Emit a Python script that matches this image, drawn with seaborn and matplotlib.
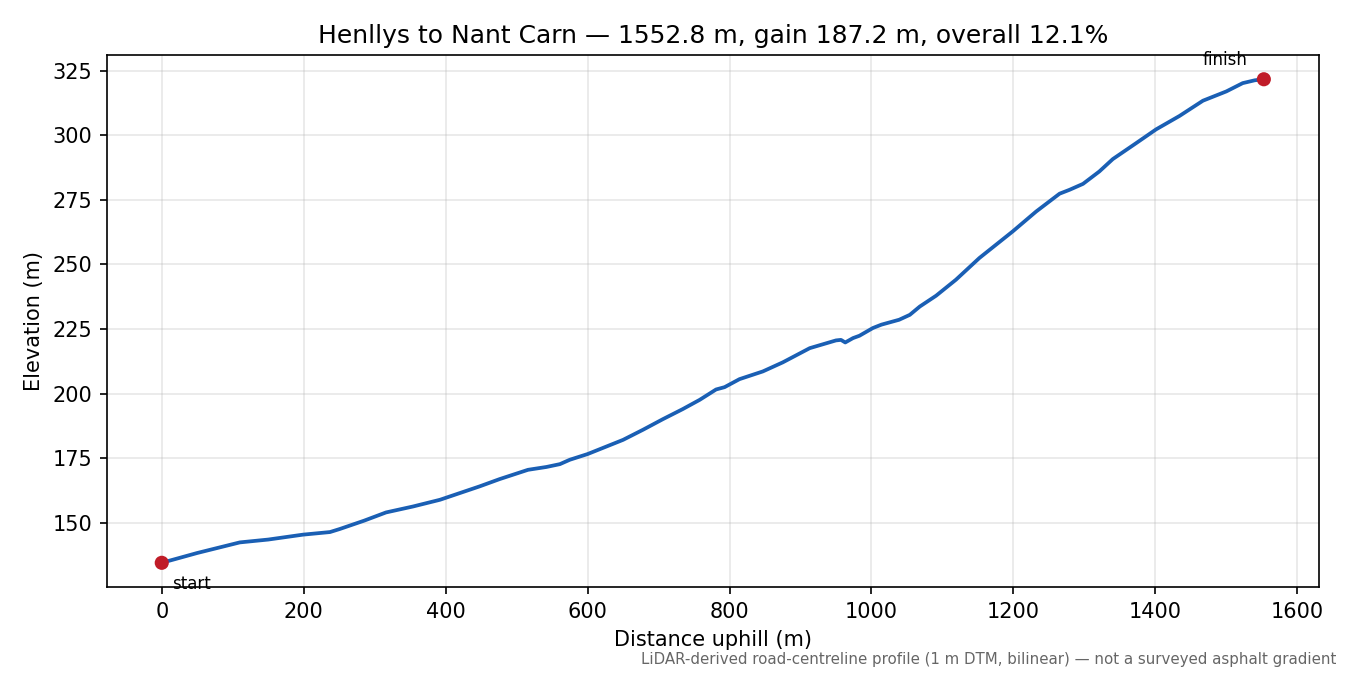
import matplotlib
matplotlib.use("Agg")
import matplotlib.pyplot as plt
import seaborn as sns
import pandas as pd

distance_m = [0, 50, 110, 150, 199, 237, 251, 285, 316, 354, 392, 448, 476, 516, 542,
              561, 575, 600, 650, 678, 706, 734, 758, 781, 793, 814, 847, 875, 913,
              950, 957, 963, 974, 983, 1002, 1014, 1039, 1054, 1068, 1091, 1119, 1152,
              1199, 1232, 1265, 1279, 1298, 1321, 1340, 1372, 1401, 1434, 1467, 1500,
              1523, 1540, 1552.8]
elevation_m = [134.5, 138.3, 142.4, 143.5, 145.4, 146.4, 147.6, 150.8, 154.0, 156.3,
               158.9, 164.1, 166.9, 170.5, 171.6, 172.7, 174.4, 176.6, 182.1, 186.0,
               190.1, 194.0, 197.6, 201.6, 202.5, 205.6, 208.6, 212.1, 217.6, 220.6,
               220.8, 219.8, 221.5, 222.4, 225.4, 226.7, 228.6, 230.5, 233.7, 237.9,
               244.1, 252.5, 262.8, 270.5, 277.4, 278.9, 281.2, 286.0, 290.8, 296.8,
               302.3, 307.5, 313.4, 317.0, 320.2, 321.3, 321.7]

title = "Henllys to Nant Carn \u2014 1552.8 m, gain 187.2 m, overall 12.1%"
note = "LiDAR-derived road-centreline profile (1 m DTM, bilinear) \u2014 not a surveyed asphalt gradient"

df = pd.DataFrame({"distance": distance_m, "elevation": elevation_m})

fig = plt.figure(figsize=(9, 4.5), dpi=150)
ax = fig.add_axes([0.079, 0.1304, 0.898, 0.788])
sns.lineplot(data=df, x="distance", y="elevation", ax=ax, color="#1a5fb4",
             linewidth=1.8, zorder=3)
ends = df.iloc[[0, -1]]
sns.scatterplot(data=ends, x="distance", y="elevation", ax=ax, color="#c01c28",
                s=46, edgecolor="none", zorder=4)
ax.annotate("start", (distance_m[0], elevation_m[0]), xytext=(5, -6),
            textcoords="offset points", ha="left", va="top", fontsize=8)
ax.annotate("finish", (distance_m[-1], elevation_m[-1]), xytext=(-8, 5),
            textcoords="offset points", ha="right", va="bottom", fontsize=8)
ax.grid(True, alpha=0.3)
ax.set_axisbelow(True)
ax.margins(x=0.05, y=0.05)
ax.set_xticks([0, 200, 400, 600, 800, 1000, 1200, 1400, 1600])
ax.set_yticks([150, 175, 200, 225, 250, 275, 300, 325])
ax.set_xlabel("Distance uphill (m)")
ax.set_ylabel("Elevation (m)")
ax.set_title(title, fontsize=12)
fig.text(0.99, 0.012, note, ha="right", va="bottom", fontsize=7.2, color="#666666")
fig.savefig("out.png", dpi=150)
